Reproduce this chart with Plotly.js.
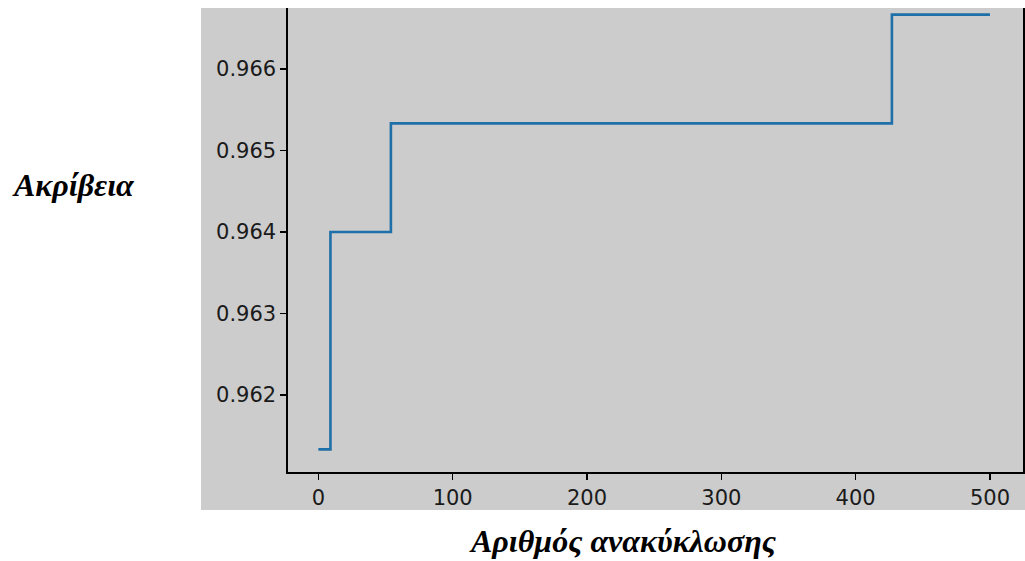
<!DOCTYPE html>
<html>
<head>
<meta charset="utf-8">
<script src="https://cdn.plot.ly/plotly-3.0.1.min.js"></script>
<style>html,body{margin:0;padding:0;background:#fff;}#chart{width:1025px;height:561px;}</style>
</head>
<body>
<div id="chart"></div>
<script>
// Step points (iteration where accuracy changes) and accuracy values
const iterations = [0, 9, 54, 427, 500];
const accuracy = [0.961333, 0.964000, 0.965333, 0.966667, 0.966667];
const xTickVals = [0, 100, 200, 300, 400, 500];
const yTickVals = [0.962, 0.963, 0.964, 0.965, 0.966];
const yTickText = ['0.962', '0.963', '0.964', '0.965', '0.966'];
const yTitle = 'Ακρίβεια';
const xTitle = 'Αριθμός ανακύκλωσης';

const L = 288, R = 1023, T = 8, B = 472, W = 1025, H = 561;
const pw = R - L, ph = B - T;
const px = v => (v - L) / pw;
const py = v => (B - v) / ph;

const trace = {
  x: iterations, y: accuracy, type: 'scatter', mode: 'lines',
  line: {color: '#1f6fa8', width: 2.6, shape: 'hv'},
  hoverinfo: 'skip'
};

const layout = {
  width: W, height: H,
  margin: {l: L, r: W - R, t: T, b: H - B, pad: 0},
  paper_bgcolor: '#ffffff',
  plot_bgcolor: '#cccccc',
  showlegend: false,
  font: {family: 'DejaVu Sans', size: 21, color: '#1a1a1a'},
  xaxis: {
    range: [-22.6, 524.6], tickvals: xTickVals, showgrid: false, zeroline: false,
    showline: true, linecolor: '#000', linewidth: 1.6,
    ticks: 'outside', ticklen: 6, tickwidth: 1.4, tickcolor: '#000',
    tickfont: {family: 'DejaVu Sans', size: 21, color: '#1a1a1a'}
  },
  yaxis: {
    range: [0.961055, 0.966748], tickvals: yTickVals, ticktext: yTickText,
    showgrid: false, zeroline: false,
    showline: true, mirror: true, linecolor: '#000', linewidth: 1.6,
    ticks: 'outside', ticklen: 6, tickwidth: 1.4, tickcolor: '#000',
    tickfont: {family: 'DejaVu Sans', size: 21, color: '#1a1a1a'}
  },
  shapes: [{
    type: 'rect', xref: 'paper', yref: 'paper', layer: 'below',
    x0: px(201), x1: px(1025), y0: py(510), y1: py(8),
    fillcolor: '#cccccc', line: {width: 0}
  }],
  annotations: [
    {text: '<b><i>' + yTitle + '</i></b>', xref: 'paper', yref: 'paper',
     x: px(10), y: py(185), xanchor: 'left', yanchor: 'middle', showarrow: false,
     font: {family: 'Liberation Serif', size: 32, color: '#000'}},
    {text: '<b><i>' + xTitle + '</i></b>', xref: 'paper', yref: 'paper',
     x: px(622), y: py(541), xanchor: 'center', yanchor: 'middle', showarrow: false,
     font: {family: 'Liberation Serif', size: 32, color: '#000'}}
  ]
};

Plotly.newPlot('chart', [trace], layout, {staticPlot: true, displayModeBar: false});
</script>
</body>
</html>
